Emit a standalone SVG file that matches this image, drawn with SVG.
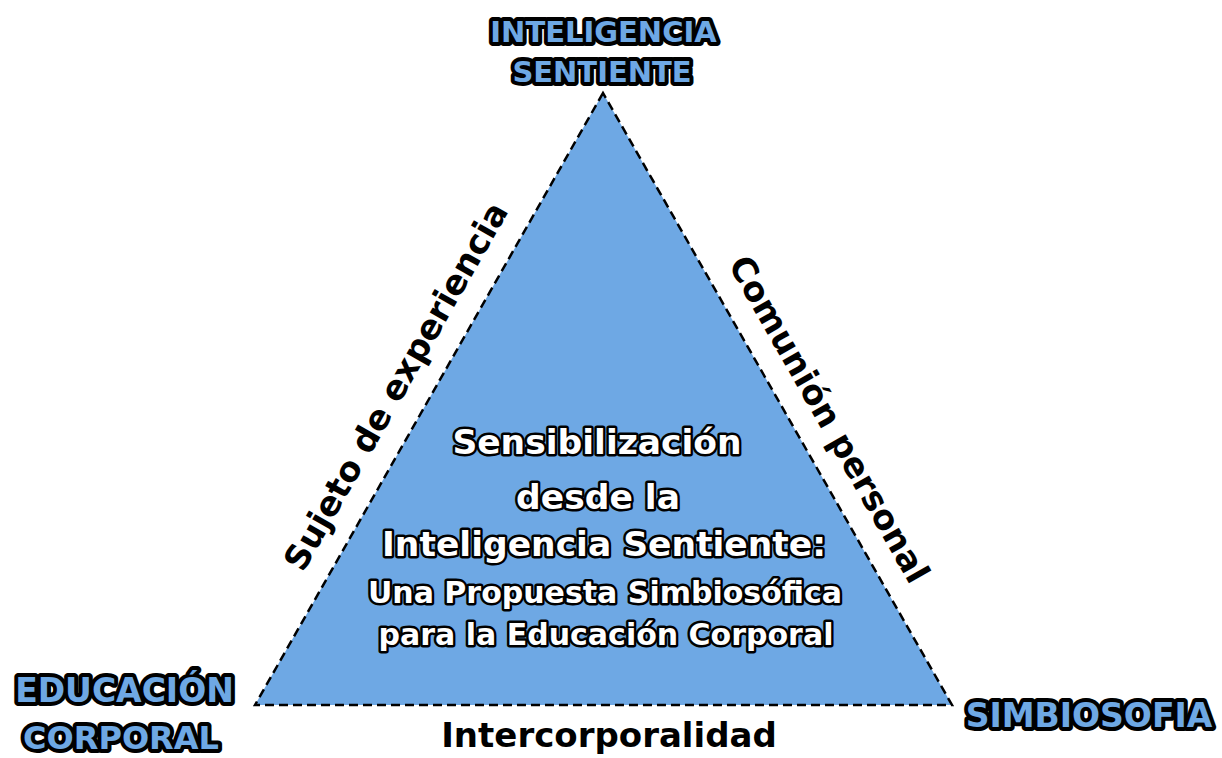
<svg xmlns="http://www.w3.org/2000/svg" width="1222" height="758" viewBox="0 0 1222 758">
<style>
.corner{font-family:"DejaVu Sans",sans-serif;font-weight:700;fill:#6ea8e4;stroke:#000;stroke-width:8px;stroke-linejoin:round;paint-order:stroke;text-anchor:middle}
.side{font-family:"DejaVu Sans",sans-serif;font-weight:700;font-size:34px;fill:#000;text-anchor:middle}
.title{font-family:"DejaVu Sans",sans-serif;font-weight:700;fill:#fff;stroke:#000;stroke-width:5px;stroke-linejoin:round;paint-order:stroke;text-anchor:middle}
</style>
<rect width="1222" height="758" fill="#fff"/>
<g id="triangle">
<polygon points="603,93 255,705 952,705" fill="#6ea8e4" stroke="#000" stroke-width="2.5" stroke-dasharray="9,5"/>
</g>
<g id="connectors">
<text class="side" transform="translate(406,392) rotate(-60.4)" font-size="33.5">Sujeto de experiencia</text>
<text class="side" transform="translate(819,425) rotate(60.4)">Comunión personal</text>
<text class="side" x="609" y="747">Intercorporalidad</text>
</g>
<g id="node-top">
<text class="corner" x="603.5" y="42" font-size="29">INTELIGENCIA</text>
<text class="corner" x="602" y="82" font-size="29">SENTIENTE</text>
</g>
<g id="node-left">
<text class="corner" x="124.5" y="702" font-size="33">EDUCACIÓN</text>
<text class="corner" x="121" y="749" font-size="32">CORPORAL</text>
</g>
<g id="node-right">
<text class="corner" x="1089" y="727" font-size="33">SIMBIOSOFIA</text>
</g>
<g id="center">
<text class="title" x="597" y="454" font-size="34.5">Sensibilización</text>
<text class="title" x="598" y="509" font-size="34.5">desde la</text>
<text class="title" x="604" y="556" font-size="34.5">Inteligencia Sentiente:</text>
<text class="title" x="605" y="603" font-size="30">Una Propuesta Simbiosófica</text>
<text class="title" x="606" y="645" font-size="30">para la Educación Corporal</text>
</g>
</svg>
